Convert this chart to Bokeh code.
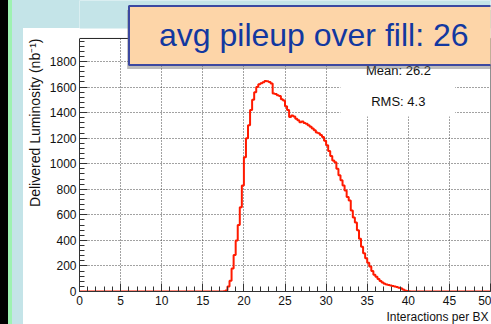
import numpy as np
from bokeh.plotting import figure
from bokeh.models import FixedTicker, Label, BoxAnnotation, Span, Title
from bokeh.embed import file_html
from bokeh.resources import INLINE

# ---- data ----
bin_start = 17.5
bin_width = 0.25
lumi = [2, 8, 40, 85, 180, 285, 400, 520, 660, 830,
        1050, 1200, 1300, 1420, 1500, 1560, 1600, 1622, 1630, 1638,
        1648, 1645, 1640, 1628, 1550, 1545, 1535, 1530, 1505, 1495,
        1450, 1420, 1365, 1378, 1370, 1352, 1340, 1325, 1330, 1318,
        1312, 1300, 1290, 1275, 1262, 1245, 1238, 1225, 1208, 1180,
        1145, 1100, 1060, 1025, 1012, 960, 910, 870, 830, 790,
        740, 712, 634, 580, 540, 480, 412, 350, 300, 260,
        225, 195, 160, 132, 115, 98, 82, 70, 60, 54,
        50, 46, 43, 40, 35, 30, 25, 16, 8, 4, 1]
x_ticks = [0, 5, 10, 15, 20, 25, 30, 35, 40, 45, 50]
y_ticks = [0, 200, 400, 600, 800, 1000, 1200, 1400, 1600, 1800]
title_text = "avg pileup over fill: 26"
mean_text = "Mean: 26.2"
rms_text = "RMS:  4.3"
x_title = "Interactions per BX"
y_title = "Delivered Luminosity (nb\u207b\u00b9)"

X_MAX = 50
Y_MAX = 1980          # top of the histogram frame
Y_TOP = 2277          # top of the canvas in data units (frame extended upward)
Y_PANEL = 2058        # top edge of the white panel

edges = bin_start + bin_width * np.arange(len(lumi) + 1)
step_x = [0.0] + list(edges) + [X_MAX]
step_y = [0.0] + list(lumi) + [0.0, 0.0]

FONT = "Liberation Sans"
LIGHT_BLUE = "#c4e4e8"
GREEN = "#9ef2b2"

p = figure(width=491, height=324, x_range=(0, X_MAX), y_range=(0, Y_TOP),
           output_backend="svg", toolbar_location=None, title=None,
           min_border_left=79, min_border_right=1, min_border_top=0,
           min_border_bottom=33)
bg = ("linear-gradient(to right, #000000 0px, #000000 8px, " + GREEN + " 8px, " + GREEN
      + " 12px, rgba(0,0,0,0) 12px), "
      "linear-gradient(to bottom, " + LIGHT_BLUE + " 0px, " + LIGHT_BLUE
      + " 28px, rgba(0,0,0,0) 28px), "
      "linear-gradient(to right, " + LIGHT_BLUE + " 0px, " + LIGHT_BLUE + " 23px, #ffffff 23px)")
p.styles = {"background": bg}
p.border_fill_color = None
p.background_fill_color = "white"
p.outline_line_color = None

for ax in (p.xaxis[0], p.yaxis[0]):
    ax.major_tick_out = 0
    ax.minor_tick_out = 0
    ax.major_tick_in = 8
    ax.minor_tick_in = 5
    ax.axis_line_color = "#333333"
    ax.major_tick_line_color = "#333333"
    ax.minor_tick_line_color = "#333333"
    ax.major_label_text_font = FONT
    ax.major_label_text_font_size = "12px"
    ax.major_label_text_color = "#111111"

p.xaxis[0].ticker = FixedTicker(ticks=x_ticks, minor_ticks=list(range(0, X_MAX + 1)))
p.yaxis[0].ticker = FixedTicker(ticks=y_ticks, minor_ticks=list(range(0, Y_MAX, 40)))
p.yaxis[0].bounds = (0, Y_MAX)
p.xaxis[0].major_label_standoff = 4
p.yaxis[0].major_label_standoff = 3

for g in (p.xgrid[0], p.ygrid[0]):
    g.grid_line_color = "#444444"
    g.grid_line_dash = "1 2"
    g.grid_line_width = 1

# histogram
p.step(step_x, step_y, mode="after", line_color="#ff1a00", line_width=2)
# right frame edge
p.line([X_MAX, X_MAX], [0, Y_MAX], line_color="#222222", line_width=1)

# area above the frame: white panel strip and light-blue page
p.add_layout(BoxAnnotation(bottom=Y_MAX, top=Y_PANEL, fill_color="white", fill_alpha=1.0,
                           line_color=None))
p.add_layout(BoxAnnotation(bottom=Y_PANEL, fill_color=LIGHT_BLUE, fill_alpha=1.0,
                           line_color=None))
# stats box
p.add_layout(BoxAnnotation(left=31.75, right=45.7, bottom=1370, top=Y_MAX,
                           fill_color="white", fill_alpha=1.0, line_color=None))
# top frame edge
p.add_layout(Span(location=Y_MAX, dimension="width", line_color="#222222", line_width=1))

p.add_layout(Label(x=38.8, y=1730, text=mean_text, text_align="center", text_baseline="middle",
                   text_font=FONT, text_font_size="13px", text_color="#111111"))
p.add_layout(Label(x=39.0, y=1483, text=rms_text, text_align="center", text_baseline="middle",
                   text_font=FONT, text_font_size="13px", text_color="#111111"))

# axis titles in the side panels
p.add_layout(Title(text=x_title, align="right", offset=2, standoff=0,
                   text_font=FONT, text_font_size="12px", text_font_style="normal",
                   text_color="#111111", background_fill_color=None), "below")
p.add_layout(Title(text=y_title, align="right", offset=38, standoff=7,
                   text_font=FONT, text_font_size="14px", text_font_style="normal",
                   text_color="#111111", background_fill_color=None), "left")

# title box with shadow
p.add_layout(Label(x=5.8, y=1972, text=title_text, text_align="left", text_baseline="middle",
                   text_font=FONT, text_font_size="32px", text_color="rgba(0,0,0,0)",
                   background_fill_color="#6a6a6a", background_fill_alpha=0.45,
                   padding=dict(left=30, right=60, top=11, bottom=12)))
p.add_layout(Label(x=6.02, y=2003, text=title_text, text_align="left", text_baseline="middle",
                   text_font=FONT, text_font_size="32px", text_color="#1238a0",
                   background_fill_color="#fdd5a8", background_fill_alpha=1.0,
                   border_line_color="#3c48a0", border_line_width=2,
                   padding=dict(left=30, right=60, top=11, bottom=12)))

open("out.html", "w").write(file_html(p, INLINE))
